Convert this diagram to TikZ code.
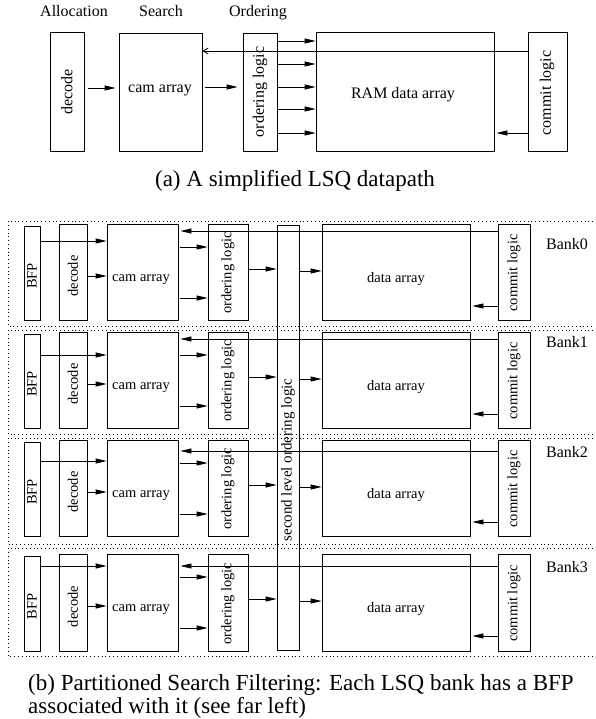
\documentclass[tikz,border=0pt]{standalone}
\usepackage{fontspec}
\setmainfont{Liberation Serif}
\usetikzlibrary{arrows.meta,fit,calc}
\newcommand\abox[5]{\node[box, fit={(#2,#3) (#4,#5)}] (#1) {};}
\begin{document}
\begin{tikzpicture}[x=1pt,y=-1pt,
  box/.style={draw, line width=0.8pt, inner sep=0pt},
  lbl/.style={font=\fontsize{16}{19}\selectfont, inner sep=0pt},
  vlbl/.style={lbl, rotate=90},
  slbl/.style={font=\fontsize{14.5}{17}\selectfont, inner sep=0pt},
  svlbl/.style={slbl, rotate=90},
  captxt/.style={font=\fontsize{23}{27}\selectfont, inner sep=0pt},
  arr/.style={line width=0.8pt, -{Triangle[length=11pt,width=5pt]}},
  barr/.style={line width=0.8pt, -{Straight Barb[length=5pt,width=6pt]}},
  bankframe/.style={line width=0.8pt, dash pattern=on 0.8pt off 3pt}
]
\useasboundingbox (0,0) rectangle (595,719);

% ---------- (a) ----------
\node[lbl, anchor=base] (tAlloc) at (74,17) {Allocation};
\node[lbl, anchor=base] (tSearch) at (161,17) {Search};
\node[lbl, anchor=base] (tOrder) at (258,17) {Ordering};

\abox{dec}{50}{32}{84}{151}
\abox{cam}{119}{33}{202}{151}
\abox{ord}{243}{33}{277}{151}
\abox{ram}{316}{32}{494}{151}
\abox{com}{528}{32}{567}{151}

\node[vlbl] (tdec) at (67,92) {decode};
\node[lbl, anchor=base] (tcam) at (160,93) {cam array};
\node[vlbl] (tord) at (260,92) {ordering logic};
\node[lbl, anchor=base] (tram) at (403,99) {RAM data array};
\node[vlbl] (tcom) at (547,93) {commit logic};

\draw[arr, shorten <=4pt, shorten >=3pt] (dec.east |- 0,88) -- (cam.west |- 0,88);
\draw[arr, shorten <=3pt, shorten >=5pt] (cam.east |- 0,87) -- (ord.west |- 0,87);
\foreach \y in {41,64,87,109,133}
  \draw[arr] (ord.east |- 0,\y) -- (ram.west |- 0,\y);
\draw[barr] (com.west |- 0,51) -- (cam.east |- 0,51);
\draw[arr, shorten >=2pt] (com.west |- 0,133) -- (ram.east |- 0,133);

\node[captxt, anchor=base] (capa) at (295,187) {(a) A simplified LSQ datapath};

% ---------- (b) ----------
\abox{sec}{277}{225}{299}{650}
\node[svlbl, font=\fontsize{15}{18}\selectfont] (tsec) at (288,460) {second level ordering logic};

\foreach \i/\dt/\db/\T/\B/\yb/\yc/\yl in
  {0/221/326/224/320/241/231/249,
   1/330/434/332/428/355/339/347,
   2/438/544/440/536/461/451/457,
   3/548/656/554/651/566/566/572}{
  \draw[bankframe] (593,\dt) -- (8,\dt) -- (8,\db) -- (593,\db);
  \abox{bfp\i}{24}{\T+2}{40}{\B}
  \abox{dec\i}{59}{\T}{87}{\B}
  \abox{cam\i}{107}{\T}{178}{\B}
  \abox{ord\i}{208}{\T}{248}{\B}
  \abox{dat\i}{322}{\T}{470}{\B}
  \abox{com\i}{498}{\T}{530}{\B}
  \node[svlbl] (tbfp\i) at (32,{(\T+\B)/2+4}) {BFP};
  \node[svlbl] (tdec\i) at (73,{(\T+\B)/2+4}) {decode};
  \node[slbl, anchor=base] (tcam\i) at (141,\T+57) {cam array};
  \node[svlbl] (tord\i) at (228,{(\T+\B)/2+1}) {ordering logic};
  \node[slbl, anchor=base] (tdat\i) at (396,\T+58) {data array};
  \node[svlbl] (tcom\i) at (514,{(\T+\B)/2+1}) {commit logic};
  \node[lbl, anchor=base] (tbank\i) at (567,\yl) {Bank\i};
  \draw[arr] (bfp\i.east |- 0,\yb) -- (cam\i.west |- 0,\yb);
  \draw[arr] (dec\i.east |- 0,\T+52) -- (cam\i.west |- 0,\T+52);
  \draw[arr, shorten <=2pt] (cam\i.east |- 0,\T+23) -- (ord\i.west |- 0,\T+23);
  \draw[arr, shorten <=2pt] (cam\i.east |- 0,\T+74) -- (ord\i.west |- 0,\T+74);
  \draw[arr] (ord\i.east |- 0,\T+45) -- (sec.west |- 0,\T+45);
  \draw[arr] (sec.east |- 0,\T+47) -- (dat\i.west |- 0,\T+47);
  \draw[arr, shorten >=2pt] (com\i.west |- 0,\yc) -- (cam\i.east |- 0,\yc);
  \draw[arr, shorten >=2pt] (com\i.west |- 0,\T+82) -- (dat\i.east |- 0,\T+82);
}

\node[captxt, anchor=base west] (capb1) at (28,690) {(b) Partitioned Search Filtering: Each LSQ bank has a BFP};
\node[captxt, anchor=base west] (capb2) at (28,713) {associated with it (see far left)};
\end{tikzpicture}
\end{document}
